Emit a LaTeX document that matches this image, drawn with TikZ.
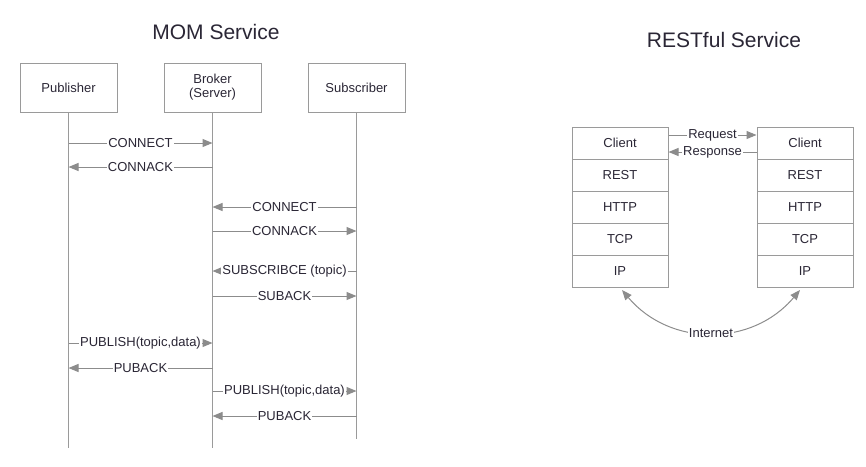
\documentclass[tikz,border=0pt]{standalone}
\usepackage{fontspec}
\setmainfont{Liberation Sans}
\usetikzlibrary{arrows.meta}
\definecolor{lc}{HTML}{8C8C8C}
\definecolor{bc}{HTML}{9A9A9A}
\definecolor{tc}{HTML}{2A2635}
\tikzset{
  actor/.style={draw=bc, line width=1pt, minimum width=97pt, minimum height=49pt, inner sep=0pt, align=center, text=tc, font=\fontsize{13}{14}\selectfont},
  cell/.style={draw=bc, line width=1pt, minimum width=96pt, minimum height=32pt, inner sep=0pt, text=tc, font=\fontsize{13}{14}\selectfont},
  life/.style={draw=bc, line width=1pt},
  msg/.style={draw=lc, line width=1pt, -{Triangle[length=10pt,width=8pt]}, color=lc},
  msgb/.style={draw=lc, line width=1pt, {Triangle[length=10pt,width=8pt]}-{Triangle[length=10pt,width=8pt]}, color=lc},
  lbl/.style={fill=white, inner sep=1pt, text=tc, font=\fontsize{13}{14}\selectfont},
  ttl/.style={text=tc, font=\fontsize{21}{24}\selectfont}
}
\begin{document}
\begin{tikzpicture}[x=1pt,y=-1pt]
\useasboundingbox (0,0) rectangle (866,466);
% titles
\node[ttl] (t1) at (216,32) {MOM Service};
\node[ttl] (t2) at (724,40) {RESTful Service};
% actors
\node[actor] (pub) at (68.5,87.5) {Publisher};
\node[actor] (bro) at (212.5,87.5) {Broker\\(Server)};
\node[actor] (sub) at (356.5,87.5) {Subscriber};
\coordinate (pe) at (68.5,448);
\coordinate (be) at (212.5,448);
\coordinate (se) at (356.5,439);
\draw[life] (pub.south) -- (pe);
\draw[life] (bro.south) -- (be);
\draw[life] (sub.south) -- (se);
% message end points
\foreach \y/\n in {143/1,167/2,207/3,231/4,271/5,296/6,343/7,368/8,391/9,416/10}{
  \coordinate (p\n) at (68.5,\y);
  \coordinate (b\n) at (212.5,\y);
  \coordinate (s\n) at (356.5,\y);
}
\draw[msg] (p1) -- node[lbl]{CONNECT} (b1);
\draw[msg] (b2) -- node[lbl]{CONNACK} (p2);
\draw[msg] (s3) -- node[lbl]{CONNECT} (b3);
\draw[msg] (b4) -- node[lbl]{CONNACK} (s4);
\draw[msg] (s5) -- node[lbl]{SUBSCRIBCE (topic)} (b5);
\draw[msg] (b6) -- node[lbl]{SUBACK} (s6);
\draw[msg] (p7) -- node[lbl]{PUBLISH(topic,data)} (b7);
\draw[msg] (b8) -- node[lbl]{PUBACK} (p8);
\draw[msg] (b9) -- node[lbl]{PUBLISH(topic,data)} (s9);
\draw[msg] (s10) -- node[lbl]{PUBACK} (b10);
% REST stacks
\node[cell] (lc1) at (620,143) {Client};
\node[cell] (lc2) at (620,175) {REST};
\node[cell] (lc3) at (620,207) {HTTP};
\node[cell] (lc4) at (620,239) {TCP};
\node[cell] (lc5) at (620,271) {IP};
\node[cell] (rc1) at (805,143) {Client};
\node[cell] (rc2) at (805,175) {REST};
\node[cell] (rc3) at (805,207) {HTTP};
\node[cell] (rc4) at (805,239) {TCP};
\node[cell] (rc5) at (805,271) {IP};
\draw[msg] ([yshift=8pt]lc1.east) -- node[lbl]{Request} ([yshift=8pt]rc1.west);
\draw[msg] ([yshift=-9pt]rc1.west) -- node[lbl]{Response} ([yshift=-9pt]lc1.west -| lc1.east);
\coordinate (il) at (622,290);
\coordinate (ir) at (800,290);
\draw[msgb] (il) .. controls (670,347) and (752,347) .. node[lbl, pos=0.5]{Internet} (ir);
\end{tikzpicture}
\end{document}
